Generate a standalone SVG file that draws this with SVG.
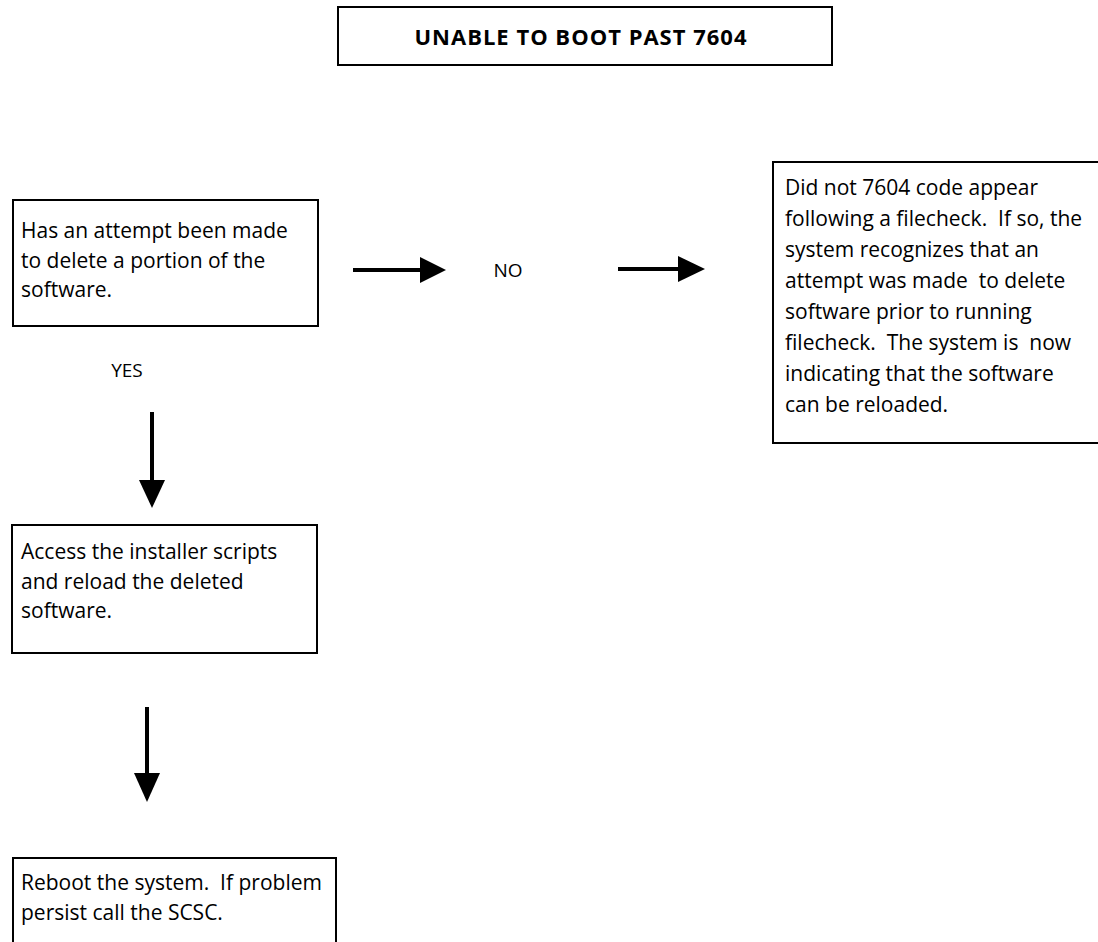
<svg xmlns="http://www.w3.org/2000/svg" width="1098" height="942" viewBox="0 0 1098 942">
<style>
.box{fill:#fff;stroke:#000;stroke-width:2}
.t{font-family:"Open Sans","Liberation Sans",sans-serif;font-size:21px;fill:#000;white-space:pre}
.lbl{font-family:"Open Sans","Liberation Sans",sans-serif;font-size:19px;fill:#000}
.title{font-family:"Open Sans","Liberation Sans",sans-serif;font-size:22px;font-weight:bold;letter-spacing:1px;fill:#000}
.ln{stroke:#000;stroke-width:4;fill:none}
.hd{fill:#000}
</style>
<rect width="1098" height="942" fill="#fff"/>
<g id="title">
<rect class="box" x="338" y="7" width="494" height="58"/>
<text class="title" x="581" y="45" text-anchor="middle">UNABLE TO BOOT PAST 7604</text>
</g>
<g id="q1">
<rect class="box" x="13" y="200" width="305" height="126"/>
<text class="t" x="21" y="238">Has an attempt been made</text>
<text class="t" x="21" y="268">to delete a portion of the</text>
<text class="t" x="21" y="297">software.</text>
</g>
<g id="no-result">
<rect class="box" x="773" y="162" width="340" height="281"/>
<text class="t" x="785" y="195" xml:space="preserve">Did not 7604 code appear</text>
<text class="t" x="785" y="226" xml:space="preserve">following a filecheck.  If so, the</text>
<text class="t" x="785" y="257" xml:space="preserve">system recognizes that an</text>
<text class="t" x="785" y="288" xml:space="preserve">attempt was made  to delete</text>
<text class="t" x="785" y="319" xml:space="preserve">software prior to running</text>
<text class="t" x="785" y="350" xml:space="preserve">filecheck.  The system is  now</text>
<text class="t" x="785" y="381" xml:space="preserve">indicating that the software</text>
<text class="t" x="785" y="412" xml:space="preserve">can be reloaded.</text>
</g>
<g id="reload">
<rect class="box" x="12" y="525" width="305" height="128"/>
<text class="t" x="21" y="559">Access the installer scripts</text>
<text class="t" x="21" y="589">and reload the deleted</text>
<text class="t" x="21" y="618">software.</text>
</g>
<g id="reboot">
<rect class="box" x="13" y="858" width="323" height="100"/>
<text class="t" x="21" y="890" xml:space="preserve">Reboot the system.  If problem</text>
<text class="t" x="21" y="920" xml:space="preserve">persist call the SCSC.</text>
</g>
<g id="connectors">
<line class="ln" x1="353" y1="270" x2="422" y2="270"/>
<polygon class="hd" points="420,257 446,270 420,283"/>
<text class="lbl" x="508" y="277" text-anchor="middle">NO</text>
<line class="ln" x1="618" y1="269" x2="680" y2="269"/>
<polygon class="hd" points="678,256 705,269 678,282"/>
<text class="lbl" x="127" y="377" text-anchor="middle">YES</text>
<line class="ln" x1="152" y1="412" x2="152" y2="482"/>
<polygon class="hd" points="139,480 165,480 152,508"/>
<line class="ln" x1="147" y1="707" x2="147" y2="775"/>
<polygon class="hd" points="134,773 160,773 147,802"/>
</g>
</svg>
